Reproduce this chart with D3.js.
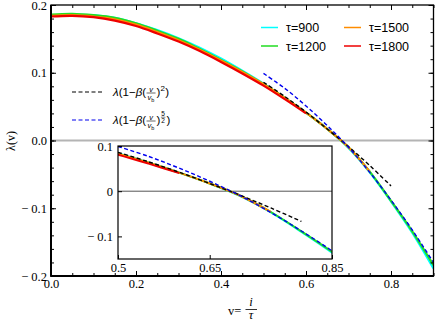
<!DOCTYPE html>
<html><head><meta charset="utf-8">
<script src="https://cdn.jsdelivr.net/npm/d3@7"></script>
<style>
html,body{margin:0;padding:0;background:#fff;}
svg{display:block;}
.tick text{font-family:"Liberation Serif","Times New Roman",serif;font-size:12.5px;fill:#000;}
</style></head>
<body>
<svg id="chart" width="436" height="327"></svg>
<script>
// ---- data ----
const vGrid = [0,0.05,0.1,0.15,0.2,0.25,0.3,0.35,0.4,0.45,0.5,0.55,0.6,0.65,0.7,0.75,0.8,0.85,0.9];
const tau900  = [0.185,0.186,0.185,0.181,0.173,0.163,0.151,0.137,0.121,0.103,0.084,0.063,0.041,0.017,-0.011,-0.047,-0.090,-0.136,-0.189];
const tau1200 = [0.186,0.187,0.185,0.181,0.173,0.162,0.150,0.135,0.119,0.102,0.083,0.063,0.041,0.017,-0.010,-0.046,-0.089,-0.134,-0.184];
const tau1500 = [0.184,0.185,0.183,0.179,0.171,0.160,0.148,0.134,0.118,0.101,0.083,0.063,0.041,0.017,-0.010,-0.046];
const tau1800 = [0.183,0.184,0.182,0.177,0.169,0.158,0.146,0.132,0.116,0.099,0.081,0.061,0.040];
const fitV = [0.5,0.55,0.6,0.65,0.7,0.75,0.8,0.85,0.9];
const fitSquare = [0.086,0.065,0.042,0.017,-0.009,-0.037,-0.067];
const fitFiveHalves = [0.099,0.077,0.051,0.022,-0.010,-0.047,-0.088,-0.132,-0.180];
const seriesNames = ["τ=900","τ=1200","τ=1500","τ=1800"];
const seriesColors = ["#00ffff","#22dd22","#ff8c00","#ee0000"];
const xTicks = [0,0.2,0.4,0.6,0.8];
const xTickLabels = ["0.0","0.2","0.4","0.6","0.8"];
const yTicks = [-0.2,-0.1,0,0.1,0.2];
const yTickLabels = ["− 0.2","− 0.1","0.0","0.1","0.2"];
const insetXTicks = [0.5,0.65,0.85];
const insetXLabels = ["0.5","0.65","0.85"];
const insetYTicks = [-0.1,0,0.1];
const insetYLabels = ["− 0.1","0","0.1"];

const series = [tau900,tau1200,tau1500,tau1800].map((vals,i)=>({
  name:seriesNames[i], color:seriesColors[i],
  pts: vals.map((y,j)=>[vGrid[j],y])
}));
const fitA = fitSquare.map((y,j)=>[fitV[j],y]);
const fitB = fitFiveHalves.map((y,j)=>[fitV[j],y]);

const svg = d3.select("#chart");
const L=51,R=433.5,T=5,B=276;
const x = d3.scaleLinear([0,0.9],[L,R]);
const y = d3.scaleLinear([-0.2,0.2],[B,T]);

svg.append("defs").append("clipPath").attr("id","mainclip")
  .append("rect").attr("x",L).attr("y",T).attr("width",R-L).attr("height",B-T);

// zero line
svg.append("line").attr("x1",L).attr("x2",R).attr("y1",y(0)).attr("y2",y(0))
  .attr("stroke","#b4b4b4").attr("stroke-width",2);

function drawLines(g, xs, ys, widthData){
  const line = d3.line().x(d=>xs(d[0])).y(d=>ys(d[1])).curve(d3.curveCatmullRom.alpha(0.5));
  series.forEach(s=>{
    g.append("path").attr("d",line(s.pts)).attr("fill","none")
      .attr("stroke",s.color).attr("stroke-width",widthData);
  });
  g.append("path").attr("d",line(fitA)).attr("fill","none").attr("stroke","#000")
    .attr("stroke-width",1.4).attr("stroke-dasharray","4,2.5");
  g.append("path").attr("d",line(fitB)).attr("fill","none").attr("stroke","#0000ee")
    .attr("stroke-width",1.4).attr("stroke-dasharray","4,2.5");
}
const gMain = svg.append("g").attr("clip-path","url(#mainclip)");
drawLines(gMain, x, y, 2.2);

// axes (ticks inward)
function fmt(vals,labels){return d=>{const i=vals.findIndex(v=>Math.abs(v-d)<1e-9);return i>=0?labels[i]:"";};}
const xMinor = d3.range(0,0.9001,0.05);
const yMinor = d3.range(-0.2,0.2001,0.02);
svg.append("g").attr("transform",`translate(0,${B})`)
  .call(d3.axisBottom(x).tickValues(xMinor).tickSizeInner(-3).tickSizeOuter(0).tickFormat(""));
svg.append("g").attr("transform",`translate(0,${B})`)
  .call(d3.axisBottom(x).tickValues(xTicks).tickSizeInner(-5).tickSizeOuter(0).tickPadding(3).tickFormat(fmt(xTicks,xTickLabels)));
svg.append("g").attr("transform",`translate(${L},0)`)
  .call(d3.axisLeft(y).tickValues(yMinor).tickSizeInner(-3).tickSizeOuter(0).tickFormat(""));
svg.append("g").attr("transform",`translate(${L},0)`)
  .call(d3.axisLeft(y).tickValues(yTicks).tickSizeInner(-5).tickSizeOuter(0).tickPadding(4).tickFormat(fmt(yTicks,yTickLabels)));
svg.append("g").attr("transform",`translate(0,${T})`)
  .call(d3.axisTop(x).tickValues(xMinor).tickSizeInner(-3).tickSizeOuter(0).tickFormat(""));
svg.append("g").attr("transform",`translate(0,${T})`)
  .call(d3.axisTop(x).tickValues(xTicks).tickSizeInner(-5).tickSizeOuter(0).tickFormat(""));
svg.append("g").attr("transform",`translate(${R},0)`)
  .call(d3.axisRight(y).tickValues(yMinor).tickSizeInner(-3).tickSizeOuter(0).tickFormat(""));
svg.append("g").attr("transform",`translate(${R},0)`)
  .call(d3.axisRight(y).tickValues(yTicks).tickSizeInner(-5).tickSizeOuter(0).tickFormat(""));
svg.selectAll(".domain").remove();
svg.selectAll(".tick line").attr("stroke","#000").attr("stroke-width",1);
svg.append("rect").attr("x",L).attr("y",T).attr("width",R-L).attr("height",B-T)
  .attr("fill","none").attr("stroke","#000").attr("stroke-width",1.3);
svg.append("line").attr("x1",L).attr("x2",L).attr("y1",T).attr("y2",B+0.5).attr("stroke","#000").attr("stroke-width",2);
svg.append("line").attr("x1",L-0.5).attr("x2",R).attr("y1",B).attr("y2",B).attr("stroke","#000").attr("stroke-width",2);

// ---- inset ----
const IL=118,IR=332,IT=146,IB=259;
const xi = d3.scaleLinear([0.5,0.85],[IL,IR]);
const yi = d3.scaleLinear([-0.15,0.1],[IB,IT]);
svg.append("rect").attr("x",IL).attr("y",IT).attr("width",IR-IL).attr("height",IB-IT).attr("fill","#fff");
svg.select("defs").append("clipPath").attr("id","insetclip")
  .append("rect").attr("x",IL).attr("y",IT).attr("width",IR-IL).attr("height",IB-IT);
const gIn = svg.append("g").attr("clip-path","url(#insetclip)");
gIn.append("line").attr("x1",IL).attr("x2",IR).attr("y1",yi(0)).attr("y2",yi(0)).attr("stroke","#555").attr("stroke-width",1);
drawLines(gIn, xi, yi, 2);
const ax1 = svg.append("g").attr("transform",`translate(0,${IB})`)
  .call(d3.axisBottom(xi).tickValues(insetXTicks).tickSizeInner(-4).tickSizeOuter(0).tickPadding(4).tickFormat(fmt(insetXTicks,insetXLabels)));
const ay1 = svg.append("g").attr("transform",`translate(${IL},0)`)
  .call(d3.axisLeft(yi).tickValues(insetYTicks).tickSizeInner(-4).tickSizeOuter(0).tickPadding(5).tickFormat(fmt(insetYTicks,insetYLabels)));
ax1.select(".domain").remove(); ay1.select(".domain").remove();
svg.selectAll(".tick line").attr("stroke","#000");
svg.append("rect").attr("x",IL).attr("y",IT).attr("width",IR-IL).attr("height",IB-IT)
  .attr("fill","none").attr("stroke","#000").attr("stroke-width",1.2);

// ---- legend (tau) ----
const legPos = [[261,27.5],[261,46],[344,27.5],[344,46]];
series.forEach((s,i)=>{
  const [lx,ly]=legPos[i];
  svg.append("line").attr("x1",lx).attr("x2",lx+17).attr("y1",ly).attr("y2",ly).attr("stroke",s.color).attr("stroke-width",1.5);
  svg.append("text").attr("x",lx+25).attr("y",ly+4.5).attr("font-family","Liberation Sans, Arial, sans-serif")
    .attr("font-size",12.5).text(s.name);
});

// ---- legend (fits) ----
function formula(x0,y0,exp){
  const ff="Liberation Sans, Arial, sans-serif";
  let cx=x0;
  function part(txt,opt){
    const t=svg.append("text").attr("x",cx).attr("y",y0+(opt&&opt.dy||0)).attr("font-family",ff)
      .attr("font-size",(opt&&opt.size)||11.5).attr("font-style",(opt&&opt.it)?"italic":"normal").text(txt);
    const w=t.node().getComputedTextLength(); cx+=w+((opt&&opt.gap)||0); return t;
  }
  part("λ",{it:true}); part("(1−"); part("β",{it:true}); part("(");
  const fx=cx+0.5;
  svg.append("text").attr("x",fx+4.5).attr("y",y0-4.5).attr("text-anchor","middle").attr("font-family",ff).attr("font-size",7.5).attr("font-style","italic").text("v");
  const db=svg.append("text").attr("x",fx+1).attr("y",y0+4).attr("font-family",ff).attr("font-size",7.5).attr("font-style","italic");
  db.append("tspan").text("v"); db.append("tspan").attr("font-size",5.5).attr("dy",1.5).attr("font-style","normal").text("b");
  svg.append("line").attr("x1",fx).attr("x2",fx+9).attr("y1",y0-3).attr("y2",y0-3).attr("stroke","#000").attr("stroke-width",0.6);
  cx=fx+10;
  part(")");
  if(exp==="2"){
    part("2",{size:8,dy:-5,gap:0.5});
  } else {
    const ex=cx+0.5;
    svg.append("text").attr("x",ex+2.2).attr("y",y0-8).attr("text-anchor","middle").attr("font-family",ff).attr("font-size",6.5).text("5");
    svg.append("line").attr("x1",ex).attr("x2",ex+4.5).attr("y1",y0-6.8).attr("y2",y0-6.8).attr("stroke","#000").attr("stroke-width",0.5);
    svg.append("text").attr("x",ex+2.2).attr("y",y0-1.5).attr("text-anchor","middle").attr("font-family",ff).attr("font-size",6.5).text("2");
    cx=ex+5.5;
  }
  part(")");
}
svg.append("line").attr("x1",72).attr("x2",103).attr("y1",92).attr("y2",92).attr("stroke","#000").attr("stroke-width",1.2).attr("stroke-dasharray","4,2.5");
formula(113,96,"2");
svg.append("line").attr("x1",72).attr("x2",103).attr("y1",120).attr("y2",120).attr("stroke","#0000ee").attr("stroke-width",1.2).attr("stroke-dasharray","4,2.5");
formula(113,124,"5/2");

// ---- axis titles ----
svg.append("text").attr("transform","translate(15,141) rotate(-90)").attr("text-anchor","middle")
  .attr("font-family","Liberation Serif, Times New Roman, serif").attr("font-size",12).text("λ(v)");
svg.append("text").attr("x",228).attr("y",315).attr("font-family","Liberation Serif, Times New Roman, serif").attr("font-size",12.5).text("v=");
svg.append("text").attr("x",251).attr("y",306).attr("text-anchor","middle").attr("font-family","Liberation Serif, Times New Roman, serif").attr("font-style","italic").attr("font-size",12.5).text("i");
svg.append("line").attr("x1",245.5).attr("x2",257).attr("y1",309.5).attr("y2",309.5).attr("stroke","#000").attr("stroke-width",0.8);
svg.append("text").attr("x",251).attr("y",319).attr("text-anchor","middle").attr("font-family","Liberation Serif, Times New Roman, serif").attr("font-style","italic").attr("font-size",12.5).text("τ");
</script>
</body></html>
